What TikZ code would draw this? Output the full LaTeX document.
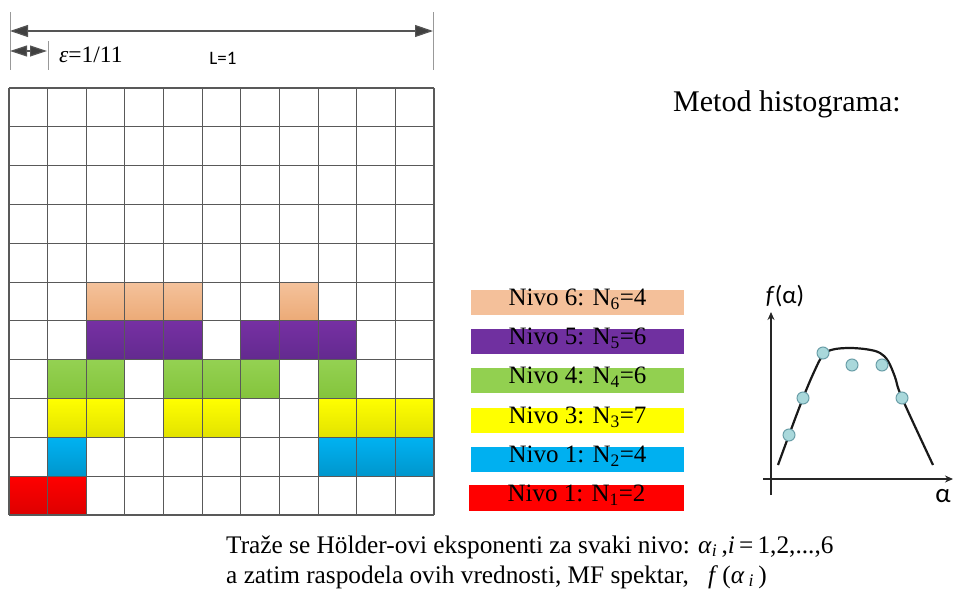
\documentclass[tikz,border=0pt]{standalone}
\usepackage{fontspec}
\setmainfont{Liberation Serif}
\newfontfamily\carl{Carlito}
\usetikzlibrary{arrows.meta}
\definecolor{peachT}{HTML}{F4C29C}\definecolor{peachB}{HTML}{ECAA76}
\definecolor{purpT}{HTML}{7630A3}\definecolor{purpB}{HTML}{632A8F}
\definecolor{greenT}{HTML}{94D152}\definecolor{greenB}{HTML}{84C43C}
\definecolor{yelT}{HTML}{FFFF00}\definecolor{yelB}{HTML}{E2E200}
\definecolor{blueT}{HTML}{00B2F2}\definecolor{blueB}{HTML}{0096CC}
\definecolor{redT}{HTML}{FF0000}\definecolor{redB}{HTML}{DD0000}
\definecolor{peachL}{HTML}{F4C09A}
\definecolor{purpL}{HTML}{7030A0}
\definecolor{greenL}{HTML}{92D050}
\definecolor{yelL}{HTML}{FFFF00}
\definecolor{blueL}{HTML}{00B0F0}
\definecolor{redL}{HTML}{FF0000}
\definecolor{gridc}{HTML}{595959}
\definecolor{dimc}{HTML}{555555}
\definecolor{dotf}{HTML}{A9D8DB}
\definecolor{dotd}{HTML}{6A9EA8}
\tikzset{
  bigtip/.tip={Triangle[length=18pt,width=12pt,fill=black!75]},
  smalltip/.tip={Triangle[length=17pt,width=11pt,fill=black!75]},
  axtip/.tip={Stealth[length=8pt,width=7pt]}
}
\begin{document}
\begin{tikzpicture}[x=1pt,y=-1pt,
  gridln/.style={draw=gridc,line width=1.1pt},
  dimline/.style={draw=dimc,line width=1.2pt},
  tickln/.style={draw=gray!80,line width=1pt},
  legbox/.style={minimum width=213pt,minimum height=25pt,inner sep=0pt,
    text height=0.66em,text depth=0pt,font=\fontsize{25}{28}\selectfont},
  axisln/.style={draw=black!85,line width=1.3pt},
  curveln/.style={draw=black!90,line width=2.2pt},
  dotnode/.style={circle,draw=dotd,fill=dotf,line width=1pt,minimum size=12pt,inner sep=0pt},
  bigtxt/.style={anchor=base west,inner sep=0pt,font=\fontsize{25.3}{29}\selectfont}
]
\useasboundingbox (0,0) rectangle (953,589);

% ---- coloured cells ----
\def\cw{38.64}\def\ch{38.82}
\foreach \c in {2,3,4,7}
  \fill[top color=peachT,bottom color=peachB] ({9+\c*\cw},{88+5*\ch}) rectangle +(\cw,\ch);
\foreach \c in {2,3,4,6,7,8}
  \fill[top color=purpT,bottom color=purpB] ({9+\c*\cw},{88+6*\ch}) rectangle +(\cw,\ch);
\foreach \c in {1,2,4,5,6,8}
  \fill[top color=greenT,bottom color=greenB] ({9+\c*\cw},{88+7*\ch}) rectangle +(\cw,\ch);
\foreach \c in {1,2,4,5,8,9,10}
  \fill[top color=yelT,bottom color=yelB] ({9+\c*\cw},{88+8*\ch}) rectangle +(\cw,\ch);
\foreach \c in {1,8,9,10}
  \fill[top color=blueT,bottom color=blueB] ({9+\c*\cw},{88+9*\ch}) rectangle +(\cw,\ch);
\foreach \c in {0,1}
  \fill[top color=redT,bottom color=redB] ({9+\c*\cw},{88+10*\ch}) rectangle +(\cw,\ch);

% ---- grid ----
\foreach \i in {0,...,11} {
  \draw[gridln] ({9+\i*\cw},88) -- ({9+\i*\cw},515);
  \draw[gridln] (9,{88+\i*\ch}) -- (434,{88+\i*\ch});
}

% ---- dimension lines ----
\coordinate (ta) at (10,12); \coordinate (tb) at (10,70);
\coordinate (tc) at (433,12); \coordinate (td) at (433,70);
\coordinate (te) at (48,41); \coordinate (tf) at (48,70);
\draw[tickln] (ta) -- (tb);
\draw[tickln] (tc) -- (td);
\draw[tickln] (te) -- (tf);
\coordinate (L0) at (10,31); \coordinate (L1) at (433,31);
\draw[dimline,bigtip-bigtip] (L0) -- (L1);
\coordinate (E0) at (10,51); \coordinate (E1) at (47,51);
\draw[dimline,smalltip-smalltip] (E0) -- (E1);
\node[anchor=base west,inner sep=0pt,font=\fontsize{23.5}{26}\selectfont] (eps) at (59,62) {\textit{ε}=1/11};
\node[inner sep=0pt,font=\carl\fontsize{19}{22}\selectfont] (Lone) at (223,58) {L=1};

% ---- title ----
\node[anchor=base west,inner sep=0pt,font=\fontsize{30}{34}\selectfont] (title) at (673,111) {Metod histograma:};

% ---- legend ----
\node[legbox,fill=peachL] (n6) at (577.5,302.5) {Nivo 6: N\textsubscript{6}=4};
\node[legbox,fill=purpL]  (n5) at (577.5,341.5) {Nivo 5: N\textsubscript{5}=6};
\node[legbox,fill=greenL] (n4) at (577.5,380) {Nivo 4: N\textsubscript{4}=6};
\node[legbox,fill=yelL]   (n3) at (577.5,420) {Nivo 3: N\textsubscript{3}=7};
\node[legbox,fill=blueL]  (n2) at (577.5,459) {Nivo 1: N\textsubscript{2}=4};
\node[legbox,fill=redL,minimum width=215pt,minimum height=26pt] (n1) at (576.5,498) {Nivo 1: N\textsubscript{1}=2};

% ---- f(alpha) plot ----
\coordinate (ya) at (771,495); \coordinate (yb) at (771,312);
\coordinate (xa) at (763,479); \coordinate (xb) at (953,479);
\draw[axisln,-axtip] (ya) -- (yb);
\draw[axisln,-axtip] (xa) -- (xb);
\draw[curveln] plot[smooth,tension=0.6] coordinates {(778,465) (789,435) (803,398) (814,372) (823,355) (833,349.5) (850,348) (868,349.5) (880,353) (888,361) (895,377) (902,398) (933,465)};
\node[dotnode] (d1) at (789,435) {};
\node[dotnode] (d2) at (803,398) {};
\node[dotnode] (d3) at (823,353) {};
\node[dotnode] (d4) at (852,365) {};
\node[dotnode] (d5) at (882,365) {};
\node[dotnode] (d6) at (902,398) {};
\node[inner sep=0pt,font=\carl\fontsize{25}{28}\selectfont] (fa) at (785,296) {\textit{f}(α)};
\node[inner sep=0pt,font=\carl\fontsize{27}{28}\selectfont] (al) at (943,496) {α};

% ---- bottom text ----
\node[bigtxt] (t1) at (226,553) {Traže se Hölder-ovi eksponenti za svaki nivo:};
\node[bigtxt] (m1) at (698,553) {\textit{α}\textsubscript{\textit{i}}\,,\textit{i}\,=\,1,2,...,6};
\node[bigtxt] (t2) at (226,583) {a zatim raspodela ovih vrednosti, MF spektar,};
\node[bigtxt] (m2) at (708,583) {\textit{f}\,(\textit{α}\,\textsubscript{\textit{i}}\,)};
\end{tikzpicture}
\end{document}
